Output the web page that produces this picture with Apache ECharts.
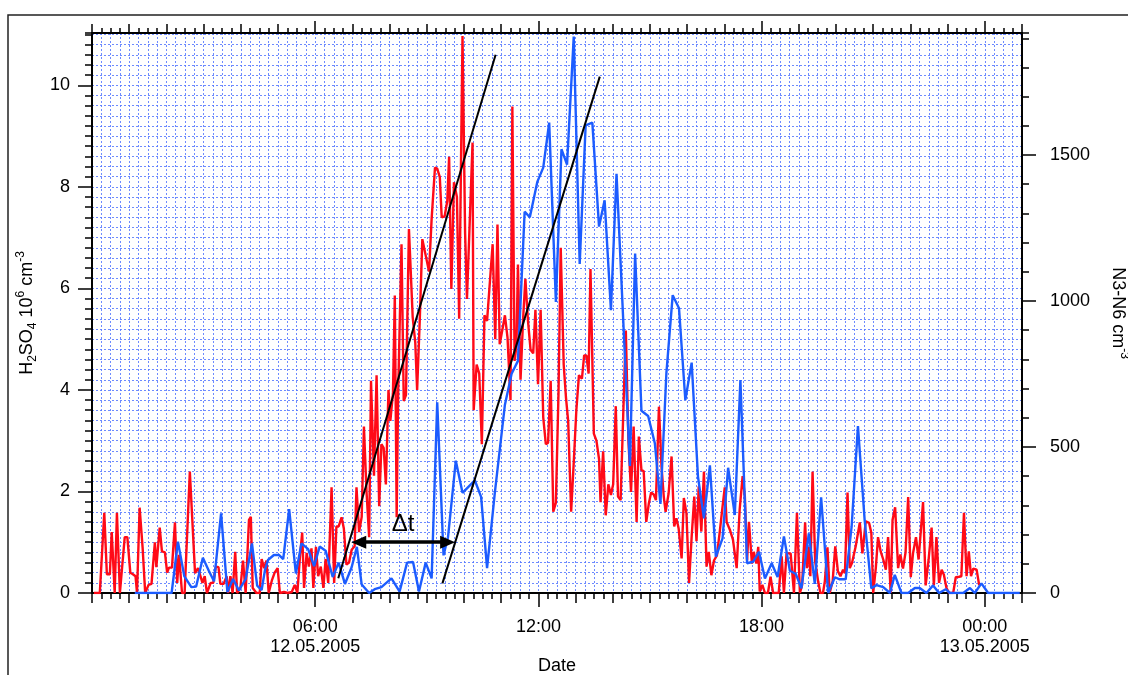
<!DOCTYPE html>
<html><head><meta charset="utf-8">
<script src="https://cdn.jsdelivr.net/npm/echarts@6/dist/echarts.min.js"></script>
<style>html,body{margin:0;padding:0;background:#fff}#c{width:1128px;height:675px}</style>
</head><body><div id="c"></div>
<script>
// ---- axis ranges / tick labels ----
const xMinH = 0, xMaxH = 25;            // hours since 12.05.2005 00:00
const y1Min = 0, y1Max = 11.03;         // H2SO4 10^6 cm^-3
const y2Min = 0, y2Max = 1918;          // N3-N6 cm^-3
const dateTicks = [6, 12, 18, 24];
const dateLabels = ['06:00\n12.05.2005', '12:00', '18:00', '00:00\n13.05.2005'];
const leftTicks = [0, 2, 4, 6, 8, 10];
const rightTicks = [0, 500, 1000, 1500];

// ---- series: [hour, value] ----
const h2so4 = [[0.05,0],[0.21,0],[0.33,1.58],[0.40,0.37],[0.48,0.37],[0.53,1.2],[0.61,0],[0.67,1.58],[0.75,0],[0.88,1.1],[0.95,1.1],[1.03,0.4],[1.10,0.37],[1.17,0.33],[1.21,0],[1.28,1.68],[1.36,0.9],[1.43,0],[1.52,0.16],[1.60,0.18],[1.69,1.0],[1.73,0.51],[1.82,1.29],[1.88,0.82],[1.96,0.8],[2.02,0.4],[2.07,0.5],[2.15,0.5],[2.23,1.39],[2.29,0.2],[2.34,0.75],[2.42,0],[2.49,0],[2.63,2.39],[2.77,0.39],[2.85,0.49],[2.90,0.52],[2.97,0.2],[3.03,0.33],[3.09,0],[3.19,0.2],[3.26,0.2],[3.33,0.52],[3.40,0.51],[3.45,0.18],[3.54,0.18],[3.62,0.33],[3.66,0],[3.72,0.33],[3.78,0],[3.85,0.81],[3.90,0],[3.99,0.1],[4.06,0.64],[4.13,0],[4.22,1.44],[4.27,1.5],[4.32,0.1],[4.42,0],[4.51,0],[4.56,0.67],[4.63,0.49],[4.69,0.64],[4.75,0],[4.84,0.26],[4.91,0.4],[4.99,0.49],[5.05,0],[5.16,0.02],[5.26,0],[5.37,0.02],[5.45,0.16],[5.52,0],[5.59,0.71],[5.65,1.19],[5.70,0.1],[5.77,0.79],[5.83,0.52],[5.90,0.88],[5.95,0.1],[6.02,0.91],[6.08,0.33],[6.15,0.52],[6.22,0.1],[6.28,0.67],[6.35,0.2],[6.44,2.08],[6.51,0.2],[6.57,1.31],[6.63,1.31],[6.71,1.49],[6.77,1.27],[6.84,0.56],[6.91,0.6],[6.98,0.85],[7.06,0.92],[7.11,2.08],[7.18,1.2],[7.25,1.5],[7.31,3.28],[7.38,1.99],[7.45,1.1],[7.50,4.18],[7.58,2.31],[7.65,4.29],[7.72,1.71],[7.78,2.93],[7.84,2.86],[7.90,2.14],[7.97,4.0],[8.02,3.39],[8.09,3.93],[8.14,5.86],[8.19,1.49],[8.23,3.93],[8.32,6.87],[8.38,3.78],[8.44,3.9],[8.52,7.17],[8.62,5.44],[8.69,4.93],[8.74,4.0],[8.81,5.36],[8.88,6.97],[8.97,6.65],[9.06,6.33],[9.13,7.37],[9.22,8.38],[9.28,8.36],[9.35,8.19],[9.40,7.4],[9.48,7.42],[9.55,7.72],[9.60,8.59],[9.66,5.99],[9.73,8.09],[9.81,7.8],[9.87,5.4],[9.96,10.97],[10.03,7.08],[10.08,5.79],[10.23,8.87],[10.26,3.6],[10.34,4.5],[10.41,4.32],[10.48,2.93],[10.55,5.47],[10.62,5.36],[10.77,6.87],[10.84,5.0],[10.90,7.26],[10.96,4.9],[11.04,5.22],[11.10,5.47],[11.17,5.03],[11.25,3.8],[11.30,9.58],[11.36,4.57],[11.41,4.87],[11.45,6.47],[11.52,4.2],[11.59,5.42],[11.65,6.19],[11.72,5.36],[11.79,4.79],[11.86,4.72],[11.92,5.58],[11.99,4.11],[12.06,5.58],[12.13,3.46],[12.20,2.93],[12.26,2.96],[12.33,4.18],[12.40,1.6],[12.47,1.78],[12.54,3.93],[12.60,6.8],[12.68,4.5],[12.74,3.86],[12.80,3.39],[12.88,1.6],[12.95,2.57],[13.02,3.6],[13.09,4.29],[13.17,4.22],[13.23,4.68],[13.29,4.68],[13.35,4.32],[13.40,6.38],[13.49,3.14],[13.56,3.0],[13.63,2.64],[13.67,1.79],[13.74,2.79],[13.81,1.53],[13.88,2.14],[13.95,1.93],[14.01,2.14],[14.08,3.68],[14.14,1.9],[14.21,1.83],[14.28,3.5],[14.35,5.17],[14.42,3.0],[14.49,1.99],[14.56,3.28],[14.64,1.4],[14.70,3.08],[14.77,2.42],[14.83,2.4],[14.90,1.4],[14.97,1.77],[15.03,1.98],[15.10,1.94],[15.16,1.83],[15.24,3.67],[15.31,2.49],[15.37,1.9],[15.42,1.6],[15.50,1.96],[15.58,2.69],[15.65,1.31],[15.71,1.47],[15.77,1.27],[15.85,0.68],[15.91,1.87],[15.98,1.57],[16.05,0.2],[16.12,1.11],[16.19,1.9],[16.25,1.02],[16.31,2.1],[16.38,1.21],[16.45,2.39],[16.52,0.52],[16.58,0.81],[16.65,0.35],[16.72,0.64],[16.80,0.74],[16.88,1.24],[16.95,1.7],[17.01,2.08],[17.06,1.4],[17.15,1.24],[17.23,1.05],[17.33,0.49],[17.41,1.64],[17.49,2.3],[17.55,1.9],[17.61,0.64],[17.66,1.4],[17.74,0.58],[17.79,0.81],[17.86,0.58],[17.91,0.91],[17.95,0.03],[18.02,0.16],[18.09,0],[18.17,0],[18.24,0.32],[18.31,0],[18.40,0],[18.46,0],[18.54,0.72],[18.60,0],[18.67,0.78],[18.78,0.78],[18.87,0],[18.95,1.58],[19.03,0],[19.09,0.16],[19.17,1.39],[19.22,0.49],[19.28,0.91],[19.31,0.33],[19.37,2.39],[19.44,0.62],[19.52,0.23],[19.58,0],[19.65,0],[19.70,0.23],[19.77,0.9],[19.83,0],[19.91,0.23],[19.98,0.92],[20.05,0.43],[20.12,0.33],[20.19,0.46],[20.24,0.39],[20.31,1.98],[20.37,0.49],[20.43,0.59],[20.53,0.92],[20.64,1.39],[20.71,0.78],[20.80,1.41],[20.89,1.38],[20.95,1.18],[21.00,0],[21.07,0.49],[21.13,1.1],[21.20,0.82],[21.27,0.66],[21.34,0.46],[21.40,1.1],[21.47,0],[21.52,1.44],[21.59,1.69],[21.67,0.49],[21.73,0.76],[21.80,0.48],[21.87,0.8],[21.94,1.89],[22.01,0.31],[22.07,0.78],[22.15,1.1],[22.22,0.66],[22.27,0.66],[22.34,1.79],[22.41,0.15],[22.49,0.66],[22.57,1.29],[22.63,0.15],[22.70,1.1],[22.77,0.2],[22.84,0.46],[22.90,0.36],[22.97,0.1],[23.04,0],[23.15,0],[23.22,0.31],[23.31,0.32],[23.37,0.33],[23.44,1.58],[23.51,0.33],[23.57,0.82],[23.63,0.33],[23.69,0.48],[23.78,0.46],[23.85,0.15]];

const n3n6 = [[1.15,0],[2.14,0],[2.31,176],[2.48,58],[2.67,20],[2.80,22],[2.98,121],[3.14,76],[3.28,40],[3.47,273],[3.64,3],[3.79,48],[3.95,9],[4.13,48],[4.30,170],[4.44,25],[4.56,10],[4.65,79],[4.73,113],[4.89,130],[5.03,130],[5.14,116],[5.30,287],[5.48,67],[5.63,170],[5.81,150],[5.97,92],[6.12,159],[6.28,145],[6.47,55],[6.63,104],[6.80,31],[6.98,88],[7.12,158],[7.25,29],[7.45,0],[7.60,13],[7.78,20],[8.05,50],[8.27,5],[8.47,104],[8.63,106],[8.79,5],[8.97,104],[9.13,50],[9.28,653],[9.45,129],[9.57,191],[9.78,453],[9.96,343],[10.29,386],[10.46,329],[10.62,85],[10.83,345],[11.10,645],[11.28,751],[11.45,795],[11.63,1306],[11.77,1287],[11.97,1408],[12.13,1457],[12.29,1611],[12.47,997],[12.62,1520],[12.77,1467],[12.95,1906],[13.11,1127],[13.27,1602],[13.45,1611],[13.63,1255],[13.78,1345],[13.95,969],[14.10,1436],[14.46,435],[14.60,1163],[14.77,624],[14.95,606],[15.13,513],[15.28,305],[15.44,752],[15.61,1020],[15.78,975],[15.95,661],[16.12,789],[16.29,398],[16.45,256],[16.61,437],[16.77,124],[16.95,187],[17.10,429],[17.28,267],[17.43,729],[17.61,102],[17.77,107],[17.93,141],[18.09,50],[18.27,102],[18.43,55],[18.60,194],[18.76,76],[18.92,65],[19.07,16],[19.27,204],[19.43,31],[19.60,328],[19.79,0],[19.97,54],[20.10,47],[20.26,47],[20.42,227],[20.59,572],[20.77,250],[20.95,16],[21.09,27],[21.27,20],[21.45,0],[21.58,62],[21.76,0],[21.94,0],[22.12,17],[22.25,17],[22.43,0],[22.61,26],[22.77,0],[22.95,13],[23.06,0],[23.42,0],[23.60,17],[23.73,0],[23.91,33],[24.09,0],[24.94,0]];

// ---- annotations (hour, H2SO4 units) ----
const guide1 = [[6.62,0.29],[10.85,10.6]];
const guide2 = [[9.42,0.19],[13.65,10.17]];
const dtArrow = [[7.17,1.0],[9.56,1.0]];
const dtText = 'Δt';

const FONT = '"Liberation Sans", Arial, Helvetica, sans-serif';
const BLACK = '#000';
const gridLine = {show:true, lineStyle:{color:'#5577ff', width:1, type:[2,2], opacity:0.85}};
const noSplit = {show:false};

function xAx(pos, interval, len, extra) {
  return Object.assign({
    type:'value', position:pos, min:xMinH, max:xMaxH, interval:interval,
    axisLine:{show:false, onZero:false},
    axisTick:{show:true, inside:false, length:len, lineStyle:{color:BLACK, width:1.5}},
    axisLabel:{show:false}, splitLine:noSplit
  }, extra || {});
}
function yAx(pos, min, max, interval, len, extra) {
  return Object.assign({
    type:'value', position:pos, min:min, max:max, interval:interval,
    axisLine:{show:false, onZero:false},
    axisTick:{show:true, inside:false, length:len, lineStyle:{color:BLACK, width:1.5}},
    axisLabel:{show:false}, splitLine:noSplit
  }, extra || {});
}

const option = {
  animation:false,
  backgroundColor:'#fff',
  textStyle:{fontFamily:FONT},
  graphic:[{type:'rect', silent:true, z:-10, shape:{x:8, y:15, width:1200, height:700},
            style:{fill:'none', stroke:'#222', lineWidth:1.5}}],
  grid:{left:92, top:33, width:930, height:560, containLabel:false, outerBoundsMode:'none'},
  xAxis:[
    xAx('bottom', 0.25, 6, {axisLine:{show:true, onZero:false, lineStyle:{color:BLACK, width:2}}, splitLine:gridLine}),
    xAx('bottom', 1, 10),
    xAx('bottom', 6, 14, {
      axisTick:{show:true, length:14, customValues:dateTicks, lineStyle:{color:BLACK, width:1.5}},
      axisLabel:{show:true, customValues:dateTicks, margin:24, fontSize:18, lineHeight:20, color:BLACK, fontFamily:FONT,
        formatter:function(v){ const i = dateTicks.indexOf(v); return i >= 0 ? dateLabels[i] : ''; }},
      name:'Date', nameLocation:'middle', nameGap:64, nameMoveOverlap:false,
      nameTextStyle:{fontSize:18, color:BLACK, fontFamily:FONT}
    }),
    xAx('top', 0.25, 5, {axisLine:{show:true, onZero:false, lineStyle:{color:BLACK, width:2}}}),
    xAx('top', 1, 9),
    xAx('top', 6, 12, {axisTick:{show:true, length:12, customValues:dateTicks, lineStyle:{color:BLACK, width:1.5}}})
  ],
  yAxis:[
    yAx('left', y1Min, y1Max, 0.2, 7, {axisLine:{show:true, onZero:false, lineStyle:{color:BLACK, width:2}}, splitLine:gridLine}),
    yAx('left', y1Min, y1Max, 2, 14, {
      axisTick:{show:true, length:14, customValues:leftTicks, lineStyle:{color:BLACK, width:1.5}},
      axisLabel:{show:true, customValues:leftTicks, margin:22, fontSize:18, color:BLACK, fontFamily:FONT,
        formatter:function(v){ return String(v); }},
      name:'{n|H}{s|2}{n|SO}{s|4}{n| 10}{p|6}{n| cm}{p|-3}',
      nameLocation:'middle', nameRotate:90, nameGap:44,
      nameTextStyle:{fontSize:18, color:BLACK, fontFamily:FONT, rich:{
        n:{fontSize:18, lineHeight:24, color:BLACK, fontFamily:FONT},
        s:{fontSize:12, lineHeight:12, verticalAlign:'bottom', color:BLACK, fontFamily:FONT},
        p:{fontSize:12, lineHeight:12, verticalAlign:'top', color:BLACK, fontFamily:FONT}}}
    }),
    yAx('right', y2Min, y2Max, 100, 7, {axisLine:{show:true, onZero:false, lineStyle:{color:BLACK, width:2}}}),
    yAx('right', y2Min, y2Max, 500, 14, {
      axisTick:{show:true, length:14, customValues:rightTicks, lineStyle:{color:BLACK, width:1.5}},
      axisLabel:{show:true, customValues:rightTicks, margin:28, fontSize:18, color:BLACK, fontFamily:FONT,
        formatter:function(v){ return String(v); }},
      name:'{n|N3-N6 cm}{p|-3}',
      nameLocation:'middle', nameRotate:-90, nameGap:84,
      nameTextStyle:{fontSize:18, color:BLACK, fontFamily:FONT, rich:{
        n:{fontSize:18, lineHeight:24, color:BLACK, fontFamily:FONT},
        p:{fontSize:12, lineHeight:12, verticalAlign:'top', color:BLACK, fontFamily:FONT}}}
    })
  ],
  series:[
    {name:'H2SO4', type:'line', xAxisIndex:0, yAxisIndex:0, data:h2so4, showSymbol:false, z:3,
     lineStyle:{color:'#ff0a17', width:2.4}, itemStyle:{color:'#ff0a17'}},
    {name:'N3-N6', type:'line', xAxisIndex:0, yAxisIndex:2, data:n3n6, showSymbol:false, z:4,
     lineStyle:{color:'#1c5cff', width:2.4}, itemStyle:{color:'#1c5cff'}},
    {name:'guide1', type:'line', xAxisIndex:0, yAxisIndex:0, data:guide1, showSymbol:false, z:5,
     lineStyle:{color:BLACK, width:2}, itemStyle:{color:BLACK},
     markLine:{silent:true, symbol:['triangle','triangle'], symbolSize:[13,15], z:6,
       lineStyle:{color:BLACK, width:3.5, type:'solid'},
       label:{show:true, position:'middle', formatter:dtText, fontSize:24, color:BLACK, fontFamily:FONT, distance:6},
       data:[[{coord:dtArrow[0]},{coord:dtArrow[1]}]]}},
    {name:'guide2', type:'line', xAxisIndex:0, yAxisIndex:0, data:guide2, showSymbol:false, z:5,
     lineStyle:{color:BLACK, width:2}, itemStyle:{color:BLACK}}
  ]
};
const chart = echarts.init(document.getElementById('c'), null, {renderer:'canvas'});
chart.setOption(option);
</script></body></html>
